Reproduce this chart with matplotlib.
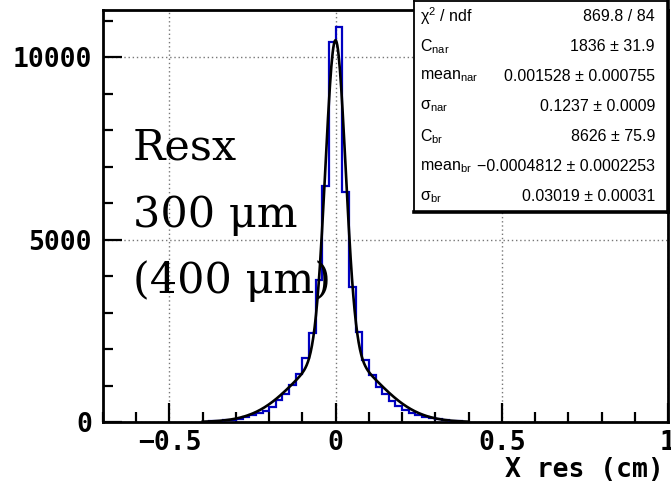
import numpy as np
import matplotlib
matplotlib.use('Agg')
import matplotlib.pyplot as plt
from matplotlib.ticker import MultipleLocator

# histogram contents, bins of 0.02 cm from -0.38 to 0.38
bin_lo = -0.38
bin_width = 0.02
counts = [18, 27, 46, 64, 91, 137, 183, 256, 301, 411,
          593, 776, 1004, 1306, 1762, 2447, 3890, 6470, 10410,
          10820, 6310, 3710, 2465, 1710, 1280, 960, 760, 575, 438,
          335, 250, 190, 140, 100, 72, 50, 35, 22]

# fit parameters (double gaussian) as shown in the stats box
C_nar, mean_nar, sigma_nar = 1836, 0.001528, 0.1237
C_br, mean_br, sigma_br = 8626, -0.0004812, 0.03019
fit_range = (-0.4, 0.4)

stat_labels = [r'χ$^{2}$ / ndf', r'C$_{nar}$', r'mean$_{nar}$', r'σ$_{nar}$',
               r'C$_{br}$', r'mean$_{br}$', r'σ$_{br}$']
stat_values = ['869.8 / 84', '1836 ± 31.9', '0.001528 ± 0.000755',
               '0.1237 ± 0.0009', '8626 ± 75.9',
               '−0.0004812 ± 0.0002253', '0.03019 ± 0.00031']

note_lines = ['Resx', '300 μm', '(400 μm)']

plt.rcParams['mathtext.default'] = 'regular'

W, H = 671, 492
fig = plt.figure(figsize=(W / 100, H / 100), dpi=100)

# main pad, pixel layout from the reference
ax_l, ax_r, ax_t, ax_b = 103, 668, 10, 422
ax = fig.add_axes([ax_l / W, 1 - ax_b / H, (ax_r - ax_l) / W, (ax_b - ax_t) / H])

edges = bin_lo + bin_width * np.arange(len(counts) + 1)
ax.stairs(counts, edges, baseline=0, color='#0000c0', lw=1.6, zorder=3)

xf = np.linspace(fit_range[0], fit_range[1], 400)
yf = (C_nar * np.exp(-0.5 * ((xf - mean_nar) / sigma_nar) ** 2)
      + C_br * np.exp(-0.5 * ((xf - mean_br) / sigma_br) ** 2))
ax.plot(xf, yf, color='black', lw=1.9, zorder=4)

ax.set_xlim(-0.7, 1.0)
ax.set_ylim(0, 11290)
ax.xaxis.set_major_locator(MultipleLocator(0.5))
ax.xaxis.set_minor_locator(MultipleLocator(0.1))
ax.yaxis.set_major_locator(MultipleLocator(5000))
ax.yaxis.set_minor_locator(MultipleLocator(1000))
ax.xaxis.set_major_formatter(plt.FuncFormatter(lambda v, p: '0' if abs(v) < 1e-9 else ('%g' % v).replace('-', '−')))

ax.grid(True, which='major', color='#777777', ls=(0, (1, 2)), lw=1.0, zorder=1)
ax.tick_params(which='both', direction='in', top=False, right=False, width=1.6)
ax.tick_params(which='major', length=14)
ax.tick_params(which='minor', length=7)
ax.tick_params(axis='x', pad=6)
ax.tick_params(axis='y', pad=8)
for lab in ax.get_xticklabels() + ax.get_yticklabels():
    lab.set_family('DejaVu Sans Mono')
    lab.set_fontweight('bold')
    lab.set_fontsize(19)
for s in ax.spines.values():
    s.set_linewidth(2.0)

fig.text(664 / W, 1 - 470 / H, 'X res (cm)', ha='right', va='center',
         family='DejaVu Sans Mono', fontweight='bold', fontsize=19)

# annotation text
base_y = [160, 227, 293]
for txt, by in zip(note_lines, base_y):
    fig.text(133 / W, 1 - by / H, txt, ha='left', va='baseline',
             family='DejaVu Serif', fontsize=31, color='black', zorder=5)

# stats box
bx_l, bx_r, bx_t, bx_b = 414, 668, 1, 212
sb = fig.add_axes([bx_l / W, 1 - bx_b / H, (bx_r - bx_l) / W, (bx_b - bx_t) / H])
sb.set_xticks([])
sb.set_yticks([])
sb.set_xlim(0, 1)
sb.set_ylim(0, 1)
sb.set_facecolor('white')
for k, s in sb.spines.items():
    s.set_linewidth(2.6 if k in ('bottom', 'right') else 1.3)
n = len(stat_labels)
for i, (lab, val) in enumerate(zip(stat_labels, stat_values)):
    yc = 1 - (i + 0.5) / n
    sb.text(6 / (bx_r - bx_l), yc, lab, ha='left', va='center',
            family='Liberation Sans', fontsize=11.5)
    sb.text(1 - 13 / (bx_r - bx_l), yc, val, ha='right', va='center',
            family='Liberation Sans', fontsize=11.5)

fig.savefig('out.png', dpi=100)
